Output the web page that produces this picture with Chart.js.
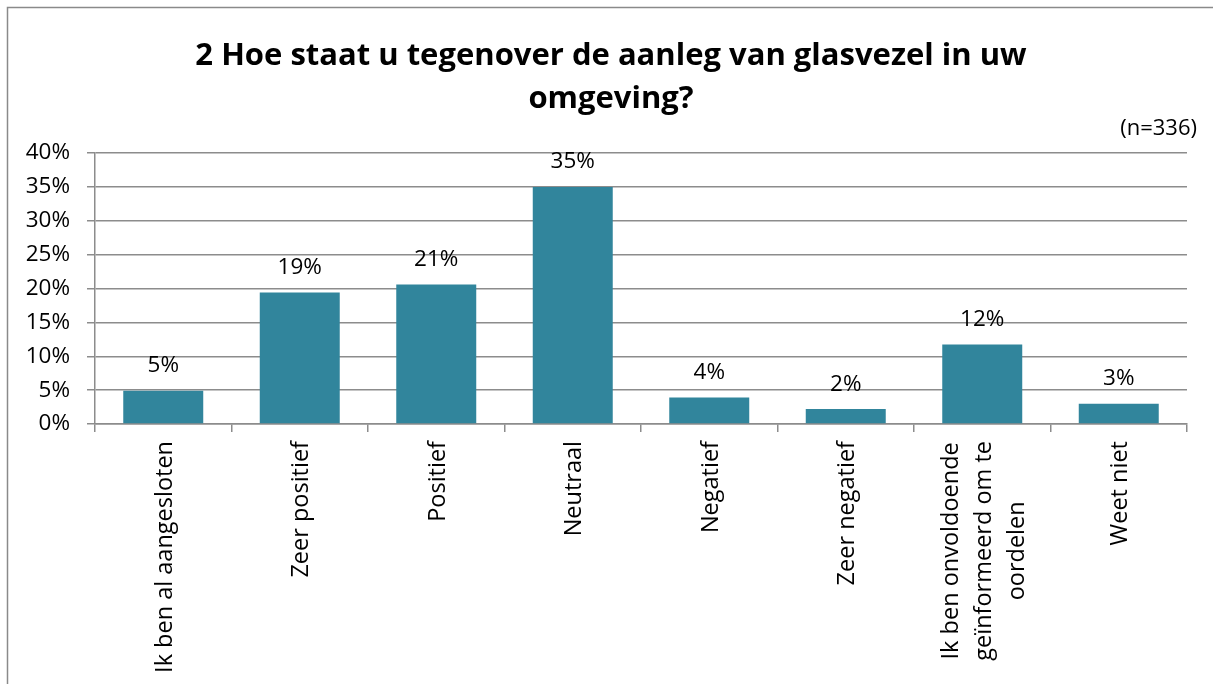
<!DOCTYPE html>
<html><head><meta charset="utf-8">
<script src="https://cdn.jsdelivr.net/npm/chart.js@4"></script>
<style>html,body{margin:0;padding:0;background:#fff;overflow:hidden}#wrap{position:relative;width:1213px;height:684px}</style>
</head><body><div id="wrap"><canvas id="c" width="1213" height="684"></canvas></div>
<script>
// ---- data ----
const categories = [
  ["Ik ben al aangesloten"],
  ["Zeer positief"],
  ["Positief"],
  ["Neutraal"],
  ["Negatief"],
  ["Zeer negatief"],
  ["Ik ben onvoldoende", "geïnformeerd om te", "oordelen"],
  ["Weet niet"]
];
const values = [4.9, 19.4, 20.6, 35.0, 3.9, 2.2, 11.75, 3.0];
const valueLabels = ["5%", "19%", "21%", "35%", "4%", "2%", "12%", "3%"];
const yTickValues = [0, 5, 10, 15, 20, 25, 30, 35, 40];
const titleLines = ["2 Hoe staat u tegenover de aanleg van glasvezel in uw", "omgeving?"];
const sampleNote = "(n=336)";

// ---- styles ----
const BAR = '#31859c';
const GRID = '#8c8c8c';
const TXT_FONT = '"Open Sans", sans-serif';

const frame = {
  id: 'frame',
  beforeDraw(chart) {
    const ctx = chart.ctx;
    ctx.save();
    ctx.fillStyle = '#fff';
    ctx.fillRect(0, 0, chart.width, chart.height);
    ctx.strokeStyle = '#8a8a8a';
    ctx.lineWidth = 1.5;
    ctx.strokeRect(7.5, 7.5, chart.width + 20, chart.height + 20);
    ctx.restore();
  },
  afterDraw(chart) {
    const ctx = chart.ctx;
    const area = chart.chartArea;
    ctx.save();
    ctx.fillStyle = '#000';
    // title
    ctx.font = 'bold 31px ' + TXT_FONT;
    ctx.textAlign = 'center';
    ctx.textBaseline = 'alphabetic';
    ctx.fillText(titleLines[0], 611, 65);
    ctx.fillText(titleLines[1], 611, 108);
    // sample size note
    ctx.font = '22px ' + TXT_FONT;
    ctx.textAlign = 'right';
    ctx.textBaseline = 'middle';
    ctx.fillText(sampleNote, area.right + 10, 129);
    ctx.restore();
  }
};

const valueLabelPlugin = {
  id: 'valueLabels',
  afterDatasetsDraw(chart) {
    const ctx = chart.ctx;
    const meta = chart.getDatasetMeta(0);
    ctx.save();
    ctx.fillStyle = '#000';
    ctx.font = '22.5px ' + TXT_FONT;
    ctx.textAlign = 'center';
    ctx.textBaseline = 'middle';
    meta.data.forEach((bar, i) => {
      ctx.fillText(valueLabels[i], bar.x, bar.y - 25);
    });
    ctx.restore();
  }
};

const xLabelPlugin = {
  id: 'xLabels',
  afterDraw(chart) {
    const ctx = chart.ctx;
    const xs = chart.scales.x;
    const top = chart.chartArea.bottom + 17;
    const lh = 33;
    ctx.save();
    ctx.fillStyle = '#000';
    ctx.font = '23.5px ' + TXT_FONT;
    ctx.textAlign = 'center';
    ctx.textBaseline = 'middle';
    categories.forEach((lines, i) => {
      const x = xs.getPixelForValue(i);
      const w = Math.max(...lines.map(l => ctx.measureText(l).width));
      ctx.save();
      ctx.translate(x, top);
      ctx.rotate(-Math.PI / 2);
      lines.forEach((l, j) => {
        ctx.fillText(l, -w / 2, (j - (lines.length - 1) / 2) * lh + 2);
      });
      ctx.restore();
    });
    ctx.restore();
  }
};

new Chart(document.getElementById('c'), {
  type: 'bar',
  data: {
    labels: categories.map(c => c.join(' ')),
    datasets: [{
      data: values,
      backgroundColor: BAR,
      borderWidth: 0,
      barPercentage: 0.586,
      categoryPercentage: 1.0
    }]
  },
  options: {
    responsive: false,
    animation: false,
    devicePixelRatio: 1,
    layout: { padding: { left: 0, right: 26, top: 153, bottom: 0 } },
    plugins: {
      legend: { display: false },
      tooltip: { enabled: false },
      title: { display: false }
    },
    scales: {
      x: {
        grid: { display: true, drawOnChartArea: false, drawTicks: true, tickLength: 8, color: GRID, lineWidth: 1.5, offset: true },
        border: { display: true, color: GRID, width: 1.5 },
        ticks: { display: false },
        afterFit(scale) { scale.height = 260; }
      },
      y: {
        min: 0, max: 40,
        afterBuildTicks(scale) { scale.ticks = yTickValues.map(v => ({ value: v })); },
        ticks: {
          callback: v => v + '%',
          color: '#000',
          padding: 17,
          font: { family: 'Open Sans', size: 22.5 }
        },
        grid: { color: GRID, lineWidth: 1.5, tickLength: 8, drawTicks: true },
        border: { display: true, color: GRID, width: 1.5 },
        afterFit(scale) { scale.width = 95; }
      }
    }
  },
  plugins: [frame, valueLabelPlugin, xLabelPlugin]
});
</script>
</body></html>
